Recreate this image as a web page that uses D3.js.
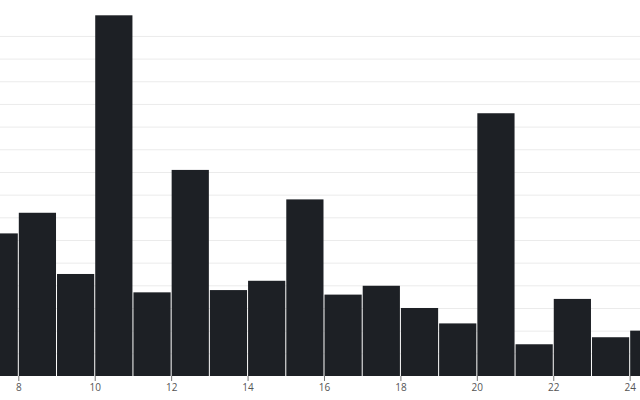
<!DOCTYPE html>
<html>
<head>
<meta charset="utf-8">
<script src="https://cdn.jsdelivr.net/npm/d3@7"></script>
<style>
html,body{margin:0;padding:0;background:#fff;}
svg{display:block;}
</style>
</head>
<body>
<svg id="chart" width="640" height="400"></svg>
<script>
const binStarts = [7,8,9,10,11,12,13,14,15,16,17,18,19,20,21,22,23,24];
const binValues = [6.29,7.20,4.50,15.91,3.69,9.09,3.79,4.20,7.79,3.59,3.98,3.00,2.32,11.59,1.40,3.40,1.71,2.00];
const xTickValues = [8,10,12,14,16,18,20,22,24];
const gridValues = [1,2,3,4,5,6,7,8,9,10,11,12,13,14,15];

const W = 640, H = 400;
const svg = d3.select("#chart");
const x = d3.scaleLinear().domain([7.521, 24.27]).range([0, W]);
const y = d3.scaleLinear().domain([0, 16.585]).range([376, 0]);

svg.append("g").selectAll("line").data(gridValues).join("line")
  .attr("x1", 0).attr("x2", W)
  .attr("y1", d => y(d) + 0.5).attr("y2", d => y(d) + 0.5)
  .attr("stroke", "#ebebeb").attr("stroke-width", 1);

svg.append("g").selectAll("rect").data(binStarts).join("rect")
  .attr("x", d => x(d) + 0.5)
  .attr("width", d => x(d + 1) - x(d) - 1)
  .attr("y", (d, i) => y(binValues[i]))
  .attr("height", (d, i) => y(0) - y(binValues[i]))
  .attr("fill", "#1d2025");

const axis = d3.axisBottom(x).tickValues(xTickValues).tickSize(5).tickPadding(3).tickFormat(d3.format("d"));
const g = svg.append("g").attr("transform", "translate(0,376)").call(axis);
g.select(".domain").remove();
g.selectAll(".tick line").attr("stroke", "#777");
g.selectAll(".tick text").attr("fill", "#555").style("font-family", "'Open Sans', sans-serif").style("font-size", "10px");
</script>
</body>
</html>
